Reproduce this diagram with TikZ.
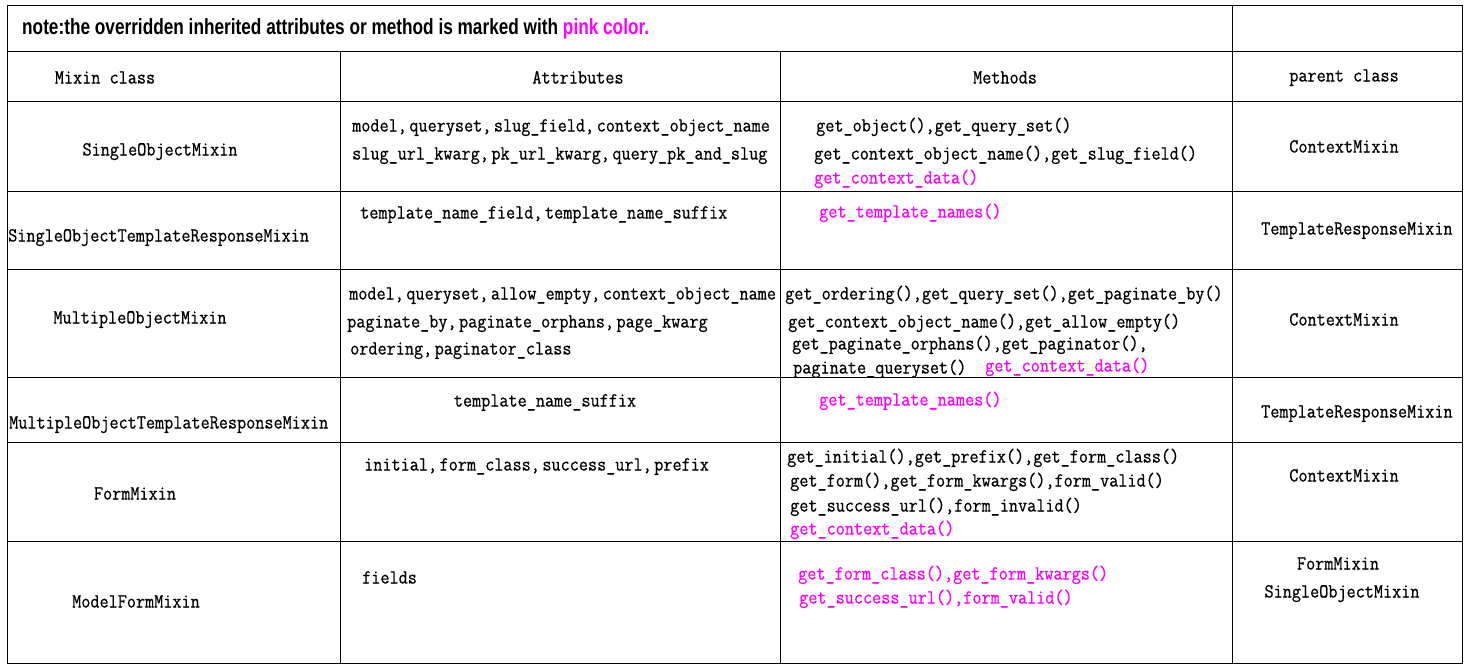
\documentclass[tikz,border=0pt]{standalone}
\usepackage{fontspec}
\setmainfont{Liberation Serif}
\newfontfamily\tfont[FakeStretch=0.885,FakeBold=0.6]{Latin Modern Mono}
\newfontfamily\titlefont[FakeStretch=0.783]{Liberation Sans}
\definecolor{mixpink}{HTML}{FF00FF}
\newcommand\cs{,\hspace{2.5pt}}
\begin{document}
\begin{tikzpicture}[x=1pt,y=-1pt,
  cell/.style={font={\tfont\fontsize{20}{24}\selectfont}, text height=11pt, text depth=2pt, inner sep=0pt},
  lt/.style={cell,anchor=west},
  ct/.style={cell,anchor=center},
  pk/.style={text=mixpink},
  gridline/.style={line width=1pt, draw=black}]
\useasboundingbox (0,0) rectangle (1474,670);
\fill[white] (0,0) rectangle (1474,670);
% grid
\draw[gridline] (7,5) rectangle (1462,663);
\foreach \yy in {51,101,191,269,377,442,541}{\draw[gridline] (7,\yy) -- (1462,\yy);}
\draw[gridline] (340,51) -- (340,663);
\draw[gridline] (780,51) -- (780,663);
\draw[gridline] (1232,5) -- (1232,663);
% title
\node[anchor=west, inner sep=0pt, font={\titlefont\bfseries\fontsize{22}{26}\selectfont}] (note) at (22,29)
  {note:the overridden inherited attributes or method is marked with \textcolor{mixpink}{pink color.}};
% header
\node[ct] (h1) at (105,79) {Mixin class};
\node[ct] (h2) at (578,79) {Attributes};
\node[ct] (h3) at (1005,79) {Methods};
\node[ct] (h4) at (1344,77) {parent class};
% row 1
\node[ct] (c1) at (160,151) {SingleObjectMixin};
\node[lt] (a1a) at (352,127) {model\cs queryset\cs slug\_field\cs context\_object\_name};
\node[lt] (a1b) at (352,155) {slug\_url\_kwarg\cs pk\_url\_kwarg\cs query\_pk\_and\_slug};
\node[lt] (m1a) at (816,127) {get\_object(),get\_query\_set()};
\node[lt] (m1b) at (814,155) {get\_context\_object\_name(),get\_slug\_field()};
\node[lt,pk] (m1c) at (814,179) {get\_context\_data()};
\node[ct] (p1) at (1344,148) {ContextMixin};
% row 2
\node[lt] (c2) at (8,237) {SingleObjectTemplateResponseMixin};
\node[lt] (a2) at (360,214) {template\_name\_field\cs template\_name\_suffix};
\node[lt,pk] (m2) at (819,213) {get\_template\_names()};
\node[lt] (p2) at (1261,230) {TemplateResponseMixin};
% row 3
\node[ct] (c3) at (140,319) {MultipleObjectMixin};
\node[lt] (a3a) at (349,295) {model\cs queryset\cs allow\_empty\cs context\_object\_name};
\node[lt] (a3b) at (347,323) {paginate\_by\cs paginate\_orphans\cs page\_kwarg};
\node[lt] (a3c) at (350,350) {ordering\cs paginator\_class};
\node[lt] (m3a) at (785,295) {get\_ordering(),get\_query\_set(),get\_paginate\_by()};
\node[lt] (m3b) at (788,323) {get\_context\_object\_name(),get\_allow\_empty()};
\node[lt] (m3c) at (792,345) {get\_paginate\_orphans(),get\_paginator(),};
\begin{scope}
\clip (781,270) rectangle (1231,376);
\node[lt] (m3d) at (793,369) {paginate\_queryset()};
\end{scope}
\node[lt,pk] (m3e) at (985,367) {get\_context\_data()};
\node[ct] (p3) at (1344,321) {ContextMixin};
% row 4
\node[lt] (c4) at (9,424) {MultipleObjectTemplateResponseMixin};
\node[ct] (a4) at (545,402) {template\_name\_suffix};
\node[lt,pk] (m4) at (819,401) {get\_template\_names()};
\node[lt] (p4) at (1261,413) {TemplateResponseMixin};
% row 5
\node[ct] (c5) at (135,495) {FormMixin};
\node[lt] (a5) at (364,466) {initial\cs form\_class\cs success\_url\cs prefix};
\node[lt] (m5a) at (787,458) {get\_initial(),get\_prefix(),get\_form\_class()};
\node[lt] (m5b) at (790,482) {get\_form(),get\_form\_kwargs(),form\_valid()};
\node[lt] (m5c) at (790,507) {get\_success\_url(),form\_invalid()};
\node[lt,pk] (m5d) at (790,530) {get\_context\_data()};
\node[ct] (p5) at (1344,477) {ContextMixin};
% row 6
\node[ct] (c6) at (136,603) {ModelFormMixin};
\node[lt] (a6) at (362,579) {fields};
\node[lt,pk] (m6a) at (798,575) {get\_form\_class(),get\_form\_kwargs()};
\node[lt,pk] (m6b) at (799,599) {get\_success\_url(),form\_valid()};
\node[ct] (p6a) at (1338,565) {FormMixin};
\node[ct] (p6b) at (1342,593) {SingleObjectMixin};
\end{tikzpicture}
\end{document}
